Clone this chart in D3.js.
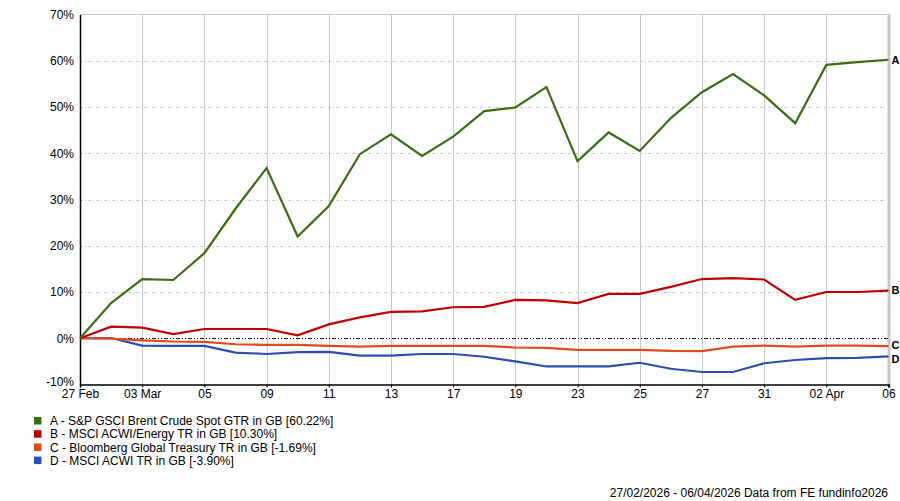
<!DOCTYPE html>
<html><head><meta charset="utf-8">
<script src="https://cdn.jsdelivr.net/npm/d3@7"></script>
<style>
body{margin:0;background:#fff;}
svg text{font-family:"Liberation Sans",Arial,sans-serif;fill:#000;}
</style></head>
<body><svg id="c" width="900" height="501"></svg>
<script>
const dates = ["27 Feb","02 Mar","03 Mar","04 Mar","05 Mar","06 Mar","09 Mar","10 Mar","11 Mar","12 Mar","13 Mar","16 Mar","17 Mar","18 Mar","19 Mar","20 Mar","23 Mar","24 Mar","25 Mar","26 Mar","27 Mar","30 Mar","31 Mar","01 Apr","02 Apr","03 Apr","06 Apr"];
const tickIdx = [0,2,4,6,8,10,12,14,16,18,20,22,24,26];
const tickLabels = ["27 Feb","03 Mar","05","09","11","13","17","19","23","25","27","31","02 Apr","06"];
const yTicks = [-10,0,10,20,30,40,50,60,70];

const seriesA = [0,7.6,12.8,12.6,18.4,28.0,36.8,22.0,28.6,39.8,44.1,39.4,43.6,49.1,49.9,54.3,38.3,44.5,40.5,47.6,53.2,57.1,52.5,46.5,59.1,59.7,60.22];
const seriesB = [0,2.5,2.3,0.9,2.0,2.0,2.0,0.65,3.0,4.5,5.7,5.8,6.7,6.8,8.3,8.2,7.6,9.6,9.6,11.1,12.8,13.0,12.7,8.3,10.0,10.0,10.30];
const seriesC = [0,-0.1,-0.45,-0.7,-0.8,-1.3,-1.45,-1.45,-1.65,-1.8,-1.65,-1.65,-1.65,-1.65,-2.0,-2.1,-2.5,-2.5,-2.5,-2.75,-2.8,-1.8,-1.6,-1.8,-1.6,-1.6,-1.69];
const seriesD = [0,0.05,-1.6,-1.65,-1.65,-3.1,-3.4,-3.0,-2.95,-3.75,-3.75,-3.4,-3.4,-4.0,-5.0,-6.1,-6.1,-6.1,-5.3,-6.6,-7.3,-7.3,-5.4,-4.7,-4.3,-4.25,-3.90];
const seriesNames = ["A - S&P GSCI Brent Crude Spot GTR in GB [60.22%]","B - MSCI ACWI/Energy TR in GB [10.30%]","C - Bloomberg Global Treasury TR in GB [-1.69%]","D - MSCI ACWI TR in GB [-3.90%]"];
const seriesKeys = ["A","B","C","D"];
const colors = ["#3a6e12","#c00000","#e2491d","#2a4fb0"];
const footer = "27/02/2026 - 06/04/2026 Data from FE fundinfo2026";

const svg = d3.select("#c");
const L=80, R=888.5, T=14.5, B=384.5;
const x = d3.scaleLinear().domain([0,dates.length-1]).range([L,R]);
const y = d3.scaleLinear().domain([-10,70]).range([B,T]);

// horizontal grid
svg.append("g").selectAll("line").data(yTicks.filter(v=>v!==0 && v!==-10 && v!==70)).join("line")
  .attr("x1",L).attr("x2",R).attr("y1",d=>Math.round(y(d))+0.5).attr("y2",d=>Math.round(y(d))+0.5)
  .attr("stroke","#c8c8c8").attr("stroke-width",1).attr("stroke-dasharray","3,2,1,2");
// top border
svg.append("line").attr("x1",L).attr("x2",R).attr("y1",T).attr("y2",T).attr("stroke","#c8c8c8");
// vertical grid
svg.append("g").selectAll("line").data(tickIdx.slice(1,-1)).join("line")
  .attr("x1",d=>Math.round(x(d))+0.5).attr("x2",d=>Math.round(x(d))+0.5).attr("y1",T).attr("y2",B)
  .attr("stroke","#c8c8c8").attr("stroke-width",1);
// right border
svg.append("line").attr("x1",R+0.5).attr("x2",R+0.5).attr("y1",T).attr("y2",B+3).attr("stroke","#c8c8c8").attr("stroke-width",3);
// zero line
svg.append("line").attr("x1",L).attr("x2",R).attr("y1",Math.round(y(0))+0.5).attr("y2",Math.round(y(0))+0.5)
  .attr("stroke","#000").attr("stroke-width",1).attr("stroke-dasharray","4,2,1,2,1,2");

// y axis
const yAxis = d3.axisLeft(y).tickValues(yTicks).tickFormat(d=>d+"%").tickSize(0).tickPadding(6);
const gy = svg.append("g").attr("transform",`translate(${L},0)`).call(yAxis);
gy.select(".domain").attr("stroke","#000").attr("stroke-width",1.5);
gy.selectAll("text").attr("font-size",12).style("font-family","Liberation Sans, Arial, sans-serif");
gy.selectAll(".tick").filter(d=>d===-10).select("text").attr("dy","0.1em");

// x axis
const xAxis = d3.axisBottom(x).tickValues(tickIdx).tickFormat((d,i)=>tickLabels[i]).tickSize(3).tickPadding(2);
const gx = svg.append("g").attr("transform",`translate(0,${B})`).call(xAxis);
gx.select(".domain").attr("stroke","#000").attr("stroke-width",1.5);
gx.selectAll(".tick line").attr("stroke","#000");
gx.selectAll("text").attr("font-size",12).style("font-family","Liberation Sans, Arial, sans-serif");

// lines
const all = [seriesA,seriesB,seriesC,seriesD];
const line = d3.line().x((d,i)=>x(i)).y(d=>y(d));
[3,2,1,0].forEach(k=>{
  svg.append("path").datum(all[k]).attr("d",line).attr("fill","none")
    .attr("stroke",colors[k]).attr("stroke-width",2.2).attr("stroke-linejoin","miter");
});
// end labels
const endY = all.map(s=>y(s[s.length-1]));
endY[2] -= 0.5; endY[3] += 3;
svg.append("g").selectAll("text").data(seriesKeys).join("text")
  .attr("x",R+3).attr("y",(d,i)=>endY[i]).attr("dy","0.35em")
  .attr("font-size",11).attr("font-weight","bold").text(d=>d);

// legend
const lg = svg.append("g").selectAll("g").data(seriesNames).join("g")
  .attr("transform",(d,i)=>`translate(34,${417+i*13.2})`);
lg.append("rect").attr("width",7.5).attr("height",7.5).attr("fill",(d,i)=>colors[i]);
lg.append("text").attr("x",16).attr("y",4).attr("dy","0.35em").attr("font-size",12).text(d=>d);

// footer
svg.append("text").attr("x",888).attr("y",497).attr("text-anchor","end").attr("font-size",12).text(footer);
</script></body></html>
